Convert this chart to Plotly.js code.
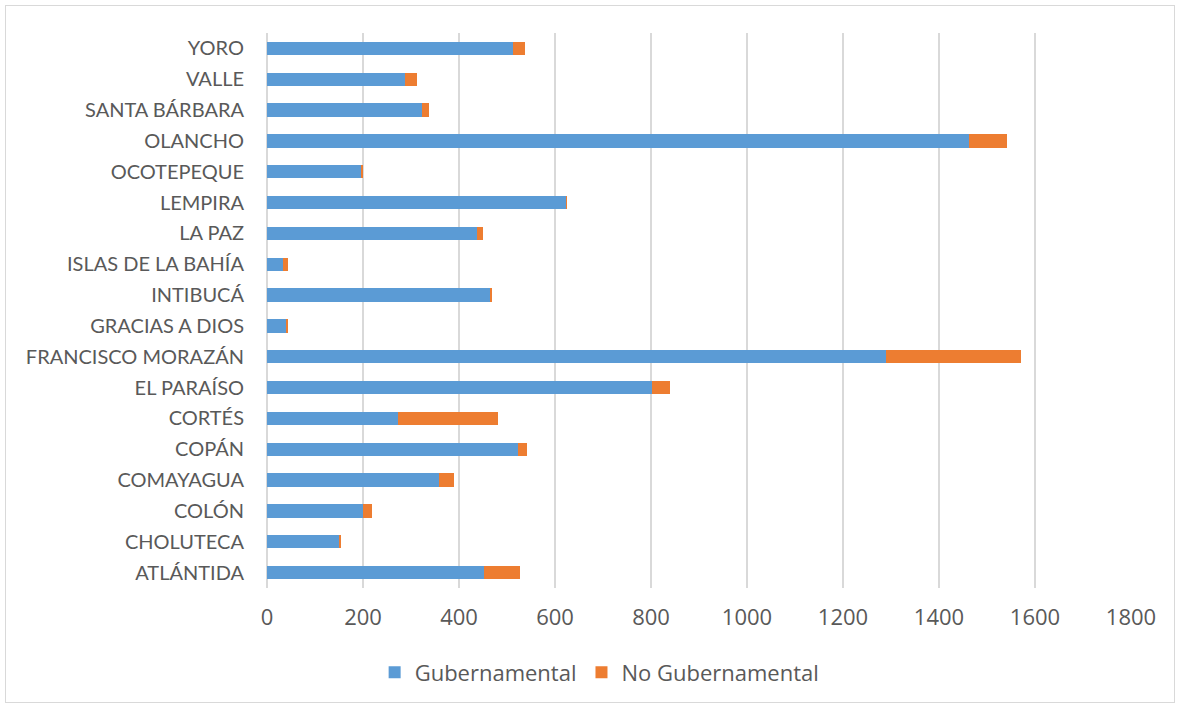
<!DOCTYPE html>
<html>
<head>
<meta charset="utf-8">
<script src="https://cdn.plot.ly/plotly-3.0.1.min.js"></script>
<style>
  html, body { margin: 0; padding: 0; background: #fff; }
  #frame { position: absolute; left: 5px; top: 5px; width: 1170px; height: 698px; border: 1px solid #d9d9d9; box-sizing: border-box; }
  #chart { position: absolute; left: 0; top: 0; width: 1181px; height: 709px; }
</style>
</head>
<body>
<div id="frame"></div>
<div id="chart"></div>
<script>
const departamentos = ["ATLÁNTIDA", "CHOLUTECA", "COLÓN", "COMAYAGUA", "COPÁN", "CORTÉS", "EL PARAÍSO",
  "FRANCISCO MORAZÁN", "GRACIAS A DIOS", "INTIBUCÁ", "ISLAS DE LA BAHÍA", "LA PAZ", "LEMPIRA",
  "OCOTEPEQUE", "OLANCHO", "SANTA BÁRBARA", "VALLE", "YORO"];
const gubernamental = [453, 151, 199, 358, 523, 272, 803, 1289, 40, 464, 33, 438, 623, 195, 1462, 322, 288, 512];
const noGubernamental = [74, 4, 20, 32, 18, 209, 37, 281, 3, 4, 10, 13, 2, 5, 80, 16, 25, 25];
const xTicks = [0, 200, 400, 600, 800, 1000, 1200, 1400, 1600, 1800];

const catFont = { family: "Lato, 'Open Sans', sans-serif", size: 20, color: "#595959" };
const numFont = { family: "'Open Sans', Lato, sans-serif", size: 22, color: "#595959" };

const traces = [
  { type: "bar", orientation: "h", name: "Gubernamental", y: departamentos, x: gubernamental,
    marker: { color: "#5b9bd5", line: { width: 0 } }, hoverinfo: "x+y" },
  { type: "bar", orientation: "h", name: "No Gubernamental", y: departamentos, x: noGubernamental,
    marker: { color: "#ed7d31", line: { width: 0 } }, hoverinfo: "x+y" }
];

const layout = {
  width: 1181, height: 709,
  barmode: "stack",
  bargap: 0.57,
  paper_bgcolor: "rgba(0,0,0,0)",
  plot_bgcolor: "rgba(0,0,0,0)",
  margin: { l: 267, r: 50, t: 33, b: 121, pad: 0 },
  font: catFont,
  xaxis: {
    range: [0, 1800], tickvals: xTicks, ticktext: xTicks.map(String),
    showgrid: true, gridcolor: "#d9d9d9", gridwidth: 1.5,
    zeroline: true, zerolinecolor: "#d9d9d9", zerolinewidth: 1.5,
    showline: false, ticks: "", ticklen: 0, tickfont: numFont,
    ticklabelstandoff: 14, automargin: false
  },
  yaxis: {
    type: "category", categoryorder: "array", categoryarray: departamentos,
    showgrid: false, zeroline: false, showline: false, ticks: "",
    ticklabelstandoff: 22, tickfont: catFont, automargin: false
  },
  showlegend: true,
  legend: {
    orientation: "h", x: 0.385, xanchor: "center", y: -0.152, yanchor: "middle",
    font: numFont, itemwidth: 30, traceorder: "normal"
  }
};

Plotly.newPlot("chart", traces, layout, { displayModeBar: false, staticPlot: true });
</script>
</body>
</html>
